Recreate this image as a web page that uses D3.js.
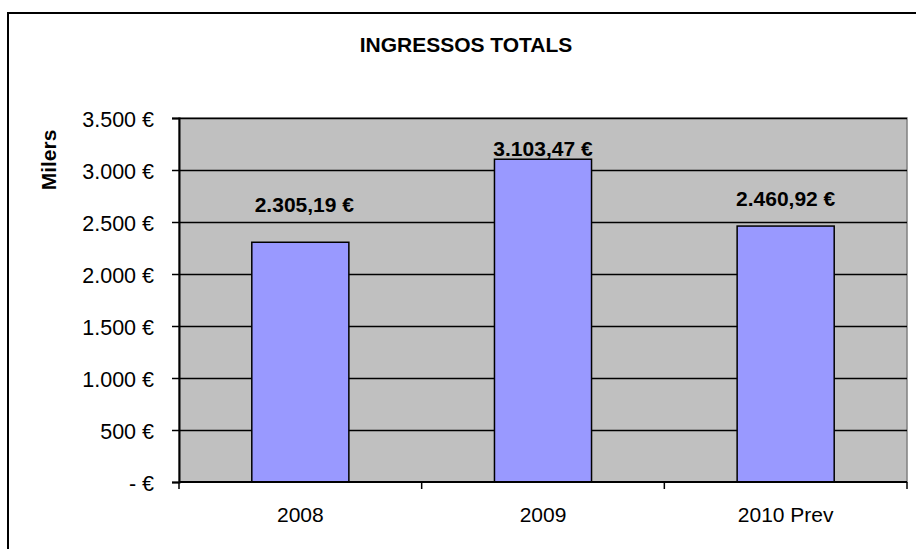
<!DOCTYPE html>
<html>
<head>
<meta charset="utf-8">
<script src="https://cdn.jsdelivr.net/npm/d3@7"></script>
<style>
  body { margin: 0; background: #fff; overflow: hidden; }
  text { font-family: "Liberation Sans", Arial, sans-serif; fill: #000; }
</style>
</head>
<body>
<script>
// dades del gràfic
var years = ['2008', '2009', '2010 Prev'];
var ingressos = [2305.19, 3103.47, 2460.92];
var tickValues = [0, 500, 1000, 1500, 2000, 2500, 3000, 3500];
var tickLabels = ['- €', '500 €', '1.000 €', '1.500 €', '2.000 €', '2.500 €', '3.000 €', '3.500 €'];
var valueLabels = ['2.305,19 €', '3.103,47 €', '2.460,92 €'];

var svg = d3.select('body').append('svg')
    .attr('width', 916)
    .attr('height', 549);

// marc exterior del gràfic (només es veuen la vora superior i l'esquerra)
svg.append('path')
    .attr('d', 'M8,549V13H916')
    .attr('fill', 'none')
    .attr('stroke', '#000')
    .attr('stroke-width', 2);

var margin = { top: 118, right: 9, bottom: 67, left: 179 };
var innerWidth = 916 - margin.left - margin.right;
var innerHeight = 549 - margin.top - margin.bottom;

var x = d3.scaleBand()
    .domain(years)
    .range([0, innerWidth])
    .paddingInner(0.6)
    .paddingOuter(0.3);

var xOuter = d3.scaleBand()
    .domain(years)
    .range([0, innerWidth]);

var y = d3.scaleLinear()
    .domain([0, 3500])
    .range([innerHeight, 0]);

var g = svg.append('g')
    .attr('transform', 'translate(' + margin.left + ',' + margin.top + ')');

// fons gris de l'àrea de traçat
g.append('rect')
    .attr('width', innerWidth)
    .attr('height', innerHeight)
    .attr('fill', '#c0c0c0')
    .attr('stroke', '#808080')
    .attr('stroke-width', 1.5);

// línies de quadrícula
g.selectAll('.grid').data(tickValues.slice(1))
    .enter().append('line')
    .attr('x1', 0).attr('x2', innerWidth)
    .attr('y1', function (d) { return Math.round(y(d)) + 0.5; })
    .attr('y2', function (d) { return Math.round(y(d)) + 0.5; })
    .attr('stroke', '#000')
    .attr('stroke-width', 1.3);

// barres
g.selectAll('.bar').data(ingressos)
    .enter().append('rect')
    .attr('x', function (d, i) { return x(years[i]); })
    .attr('y', function (d) { return y(d); })
    .attr('width', x.bandwidth())
    .attr('height', function (d) { return innerHeight - y(d); })
    .attr('fill', '#9999ff')
    .attr('stroke', '#000')
    .attr('stroke-width', 1.5);

// eix Y
var yAxis = d3.axisLeft(y)
    .tickValues(tickValues)
    .tickFormat(function (d, i) { return tickLabels[i]; })
    .tickSize(7)
    .tickPadding(18);
var yg = g.append('g').call(yAxis);
yg.select('.domain').attr('stroke-width', 2);
yg.selectAll('.tick line').attr('stroke-width', 1.5);
yg.selectAll('text')
    .style('font-size', '21.5px')
    .attr('dy', '0.38em');

// eix X (marques entre categories)
var xg = g.append('g').attr('transform', 'translate(0,' + innerHeight + ')');
xg.append('line')
    .attr('x1', 0).attr('x2', innerWidth)
    .attr('stroke', '#000').attr('stroke-width', 2);
xg.selectAll('.xtick').data(years.concat(['end']))
    .enter().append('line')
    .attr('x1', function (d, i) { return i * xOuter.step(); })
    .attr('x2', function (d, i) { return i * xOuter.step(); })
    .attr('y1', 0).attr('y2', 7)
    .attr('stroke', '#000').attr('stroke-width', 1.5);
xg.selectAll('.xlabel').data(years)
    .enter().append('text')
    .attr('x', function (d) { return xOuter(d) + xOuter.bandwidth() / 2; })
    .attr('y', 39.5)
    .attr('text-anchor', 'middle')
    .style('font-size', '21px')
    .text(function (d) { return d; });

// etiquetes de valor (posades a mà com a l'original)
var labelLift = [30, 3, 20];
var labelShift = [4, 0, 0];
g.selectAll('.vlabel').data(ingressos)
    .enter().append('text')
    .attr('x', function (d, i) { return x(years[i]) + x.bandwidth() / 2 + labelShift[i]; })
    .attr('y', function (d, i) { return y(d) - labelLift[i]; })
    .attr('text-anchor', 'middle')
    .style('font-size', '21px')
    .style('font-weight', 'bold')
    .text(function (d, i) { return valueLabels[i]; });

// títol
svg.append('text')
    .attr('x', 466).attr('y', 52)
    .attr('text-anchor', 'middle')
    .style('font-size', '21px')
    .style('font-weight', 'bold')
    .text('INGRESSOS TOTALS');

// títol de l'eix Y
svg.append('text')
    .attr('transform', 'translate(56,160) rotate(-90)')
    .attr('text-anchor', 'middle')
    .style('font-size', '21px')
    .style('font-weight', 'bold')
    .text('Milers');
</script>
</body>
</html>
